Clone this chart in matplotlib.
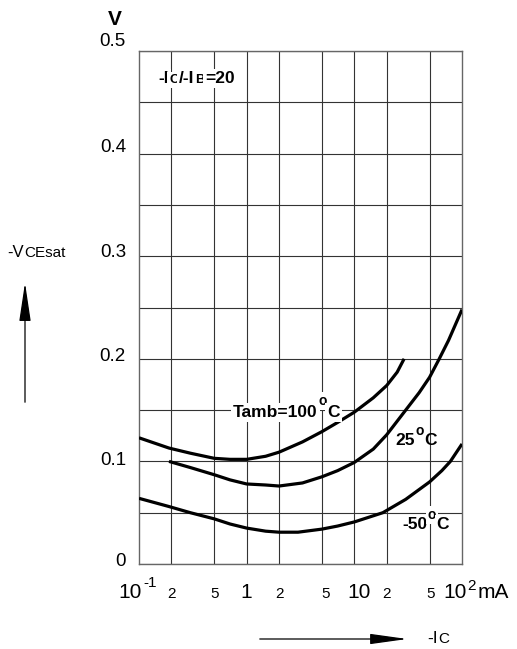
import matplotlib
matplotlib.use("Agg")
import matplotlib.pyplot as plt
from matplotlib.patches import FancyArrowPatch

plt.rcParams['font.family'] = ['Liberation Sans', 'DejaVu Sans']

W, H = 517, 649

# -Ic in mA, -VCEsat in V
ic_100 = [0.1, 0.19, 0.3, 0.5, 0.7, 1, 1.5, 2, 3.3, 5, 7, 10, 15, 20, 25, 29]
v_100 = [0.123, 0.113, 0.108, 0.103, 0.102, 0.102, 0.105, 0.109, 0.119,
         0.129, 0.138, 0.148, 0.162, 0.174, 0.187, 0.200]
ic_25 = [0.19, 0.3, 0.5, 0.7, 1, 1.5, 2, 3.3, 5, 7, 10, 15, 20, 30, 40, 50,
         61.5, 75, 100]
v_25 = [0.100, 0.094, 0.087, 0.082, 0.078, 0.077, 0.076, 0.079, 0.085, 0.091,
        0.099, 0.112, 0.126, 0.150, 0.167, 0.182, 0.200, 0.218, 0.248]
ic_m50 = [0.1, 0.19, 0.3, 0.5, 0.7, 1, 1.5, 2, 3, 5, 7, 10, 18.4, 30, 50, 65,
          78, 100]
v_m50 = [0.064, 0.056, 0.050, 0.044, 0.039, 0.035, 0.032, 0.031, 0.031,
         0.034, 0.037, 0.041, 0.050, 0.063, 0.080, 0.091, 0.100, 0.117]

x_grid = [0.2, 0.5, 1, 2, 5, 10, 20, 50]
x_small = [(0.2, '2', 0), (0.5, '5', 0), (2, '2', 0), (5, '5', 4),
           (20, '2', 0), (50, '5', 1)]
x_big = [(1, '1', 0), (10, '10', 5)]
y_grid = [0, 0.05, 0.1, 0.15, 0.2, 0.25, 0.3, 0.35, 0.4, 0.45, 0.5]
y_labels = [(0, '0', 2), (0.1, '0.1', 1), (0.2, '0.2', 2), (0.3, '0.3', 4),
            (0.4, '0.4', 6), (0.5, '0.5', 9)]


def fx(px):
    return px / W


def fy(py):
    return 1 - py / H


def rich(fig, renderer, x, y, pieces, **kw):
    # pieces: (text, size, raise in px, weight)
    for s, size, dy, weight in pieces:
        t = fig.text(fx(x), fy(y - dy), s, fontsize=size, fontweight=weight,
                     va='baseline', ha='left', zorder=5, **kw)
        x += t.get_window_extent(renderer).width + 0.6


def xlab(ax, xv, s, size, dx, dy, ha='center'):
    ax.annotate(s, xy=(xv, 0), xycoords=('data', 'axes fraction'),
                xytext=(dx, -34 + dy), textcoords='offset pixels',
                ha=ha, va='baseline', fontsize=size)


def main():
    fig = plt.figure(figsize=(W / 100, H / 100), dpi=100)
    ax = fig.add_axes([fx(139), fy(564), fx(462) - fx(139), 513 / H])
    ax.set_xscale('log')
    ax.set_xlim(0.1, 100)
    ax.set_ylim(0, 0.5)

    ax.set_xticks(x_grid)
    ax.set_xticks([], minor=True)
    ax.set_xticklabels([])
    ax.set_yticks(y_grid)
    ax.set_yticklabels([])
    ax.tick_params(length=0)
    ax.grid(True, color='#333333', lw=0.8)
    ax.set_axisbelow(True)
    for sp in ax.spines.values():
        sp.set_color('#666666')
        sp.set_linewidth(1.0)

    for ic, v in [(ic_100, v_100), (ic_25, v_25), (ic_m50, v_m50)]:
        ax.plot(ic, v, color='black', lw=2.3, zorder=6,
                solid_capstyle='butt', solid_joinstyle='round')

    for yv, s, dy in y_labels:
        ax.annotate(s, xy=(0, yv), xycoords=('axes fraction', 'data'),
                    xytext=(-13, dy), textcoords='offset pixels',
                    ha='right', va='center', fontsize=13.5)

    for xv, s, dx in x_small:
        xlab(ax, xv, s, 11, dx, 0)
    for xv, s, dx in x_big:
        xlab(ax, xv, s, 15, dx, 0)
    xlab(ax, 0.1, '10', 15, 3, 0, ha='right')
    xlab(ax, 0.1, '-1', 11, 4, 11, ha='left')
    xlab(ax, 100, '10', 15, 5, 0, ha='right')
    xlab(ax, 100, '2', 11, 5, 8, ha='left')

    fig.canvas.draw()
    r = fig.canvas.get_renderer()
    box = dict(facecolor='white', edgecolor='none', pad=1.5)

    fig.text(fx(115), fy(25), 'V', fontsize=15, fontweight='bold',
             ha='center', va='baseline')
    fig.text(fx(478), fy(598), 'mA', fontsize=15, va='baseline')
    rich(fig, r, 7, 257, [('-V', 12, 0, 'normal'), ('CEsat', 11, 0, 'normal')])
    rich(fig, r, 427, 643, [('-I', 12.5, 0, 'normal'), ('C', 11, 0, 'normal')])

    rich(fig, r, 158, 83, [('-I', 12.5, 0, 'bold'), ('C', 9.5, 0, 'bold'),
                           ('/-I', 12.5, 0, 'bold'), ('B', 9.5, 0, 'bold'),
                           ('=20', 12.5, 0, 'bold')], bbox=box)
    rich(fig, r, 233, 417, [('Tamb=100', 12.5, 0, 'bold'), ('o', 10, 12, 'bold'),
                            ('C', 12.5, 0, 'bold')], bbox=box)
    rich(fig, r, 395, 445, [('25', 12.5, 0, 'bold'), ('o', 10, 10, 'bold'),
                            ('C', 12.5, 0, 'bold')])
    rich(fig, r, 402, 529, [('-50', 12.5, 0, 'bold'), ('o', 10, 10, 'bold'),
                            ('C', 12.5, 0, 'bold')], bbox=box)

    a1 = FancyArrowPatch((fx(25), fy(405)), (fx(25), fy(280)),
                         transform=fig.transFigure,
                         arrowstyle='-|>,head_length=2.4,head_width=0.36',
                         mutation_scale=10, color='black', lw=0.9)
    a2 = FancyArrowPatch((fx(257), fy(639)), (fx(410), fy(639)),
                         transform=fig.transFigure,
                         arrowstyle='-|>,head_length=2.3,head_width=0.32',
                         mutation_scale=10, color='black', lw=0.9)
    fig.patches.extend([a1, a2])

    fig.savefig('out.png', dpi=100)


if __name__ == "__main__":
    main()
